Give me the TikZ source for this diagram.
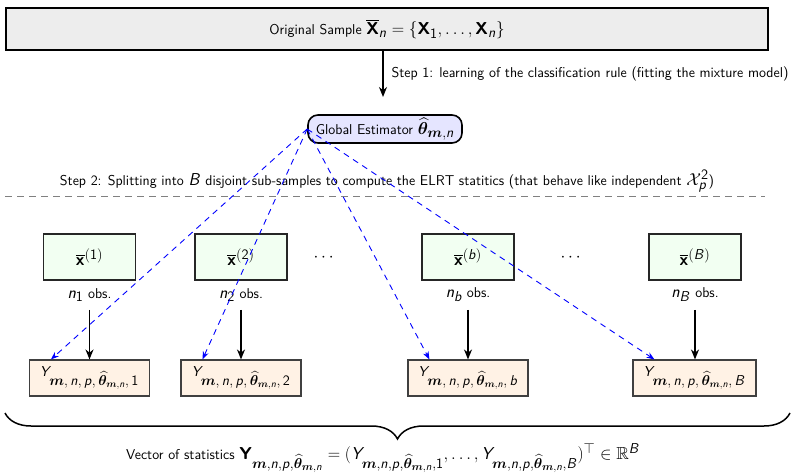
\documentclass[tikz,border=0pt]{standalone}
\usepackage{amsmath,amssymb,bm}
\DeclareSymbolFont{sfit}{OT1}{cmss}{m}{sl}
\SetSymbolFont{sfit}{bold}{OT1}{cmss}{bx}{n}
\DeclareSymbolFont{sfup}{OT1}{cmss}{m}{n}
\SetSymbolFont{sfup}{bold}{OT1}{cmss}{bx}{n}
\DeclareMathAlphabet{\mathbf}{OT1}{cmss}{bx}{n}
\newcount\lcnt
\lcnt=`a \loop \mathcode\lcnt=\numexpr "7000+\symsfit*256+\lcnt\relax \ifnum\lcnt<`z \advance\lcnt by 1 \repeat
\lcnt=`A \loop \mathcode\lcnt=\numexpr "7000+\symsfit*256+\lcnt\relax \ifnum\lcnt<`Z \advance\lcnt by 1 \repeat
\lcnt=`0 \loop \mathcode\lcnt=\numexpr "7000+\symsfup*256+\lcnt\relax \ifnum\lcnt<`9 \advance\lcnt by 1 \repeat
\DeclareMathSizes{14.3}{17.5}{14}{11}
\usetikzlibrary{arrows.meta,decorations.pathreplacing,calc}
\newcommand{\bmm}{\boldsymbol{\mathchar"716D}}
\newcommand{\thh}{\widehat{\boldsymbol{\theta}}_{\bmm,n}}
\newcommand{\Ysub}[1]{Y_{\textstyle\bmm,n,p,\thh,#1}}
\newcommand{\Ys}[1]{Y_{\bmm,n,p,\thh,#1}}
\begin{document}
\begin{tikzpicture}[x=1bp,y=-1bp,
  every node/.style={font=\sffamily\fontsize{14.3}{17}\selectfont},
  topbox/.style={draw=black, line width=1.6bp, fill=black!7, minimum width=762bp, minimum height=42bp, inner sep=0},
  estbox/.style={draw=black, line width=1.6bp, fill=blue!10, rounded corners=10bp, minimum width=154bp, minimum height=28bp, inner sep=2bp},
  subbox/.style={draw=black!85, line width=1.6bp, fill=green!5, minimum width=92bp, minimum height=46bp, inner sep=0},
  ybox/.style={draw=black!75, line width=1.1bp, fill=orange!10, minimum width=120bp, minimum height=36bp, inner sep=0, font=\sffamily\fontsize{14}{17}\selectfont},
  blk/.style={-{Stealth[length=10bp,width=8bp]}, line width=1.5bp},
  blu/.style={-{Stealth[length=8bp,width=6bp]}, blue, dashed, dash pattern=on 6bp off 5bp, line width=0.9bp}]
\useasboundingbox (0,0) rectangle (796,474);
\node[topbox] (top) at (387,29) {Original Sample $\overline{\mathbf{X}}_n=\{\mathbf{X}_1,\dots,\mathbf{X}_n\}$};
\coordinate (s1) at (383,97);
\draw[blk] (383,50) coordinate (s0) -- (s1);
\node[anchor=west] (st1) at (388,74) {Step 1: learning of the classification rule (fitting the mixture model)};
\node[estbox] (est) at (385,129) {Global Estimator $\widehat{\boldsymbol{\theta}}_{\bmm,n}$};
\node (st2) at (387,181) {Step 2: Splitting into $B$ disjoint sub-samples to compute the ELRT statitics (that behave like independent $\mathcal{X}_p^2$)};
\coordinate (dl) at (5,196);
\coordinate (dr) at (765,196);
\draw[black!50, dashed, dash pattern=on 7bp off 5bp, line width=0.9bp] (dl) -- (dr);
\foreach \i/\x/\s/\yx/\w in {1/89.5/1/89.5/120, 2/241/2/241/120, b/468/b/468/120, B/695/B/694.5/123}{
  \node[subbox] (x\i) at (\x,257) {$\overline{\mathbf{x}}^{(\s)}$};
  \node (n\i) at (\x,295) {$n_{\s}$ obs.};
  \node[ybox, minimum width=\w bp] (y\i) at (\yx,378) {$\Ysub{\s}$};
  \coordinate (a\i) at (\x,310);
  \draw[blk] (a\i) -- (y\i.north -| a\i) ;
  \draw[blu] (est.west) -- ($(y\i.north west)+(22,0)$);
}
\node (d1) at (325,258) {$\cdots$};
\node (d2) at (572,258) {$\cdots$};
\coordinate (bl) at (5,413);
\coordinate (br) at (790,413);
\draw[decorate, decoration={brace, mirror, amplitude=26bp}, line width=1.5bp] (bl) -- (br);
\node (vec) at (383,458) {Vector of statistics $\mathbf{Y}_{\bmm,n,p,\thh}=(\Ys{1},\dots,\Ys{B})^{\top}\in\mathbb{R}^B$};
\end{tikzpicture}
\end{document}
